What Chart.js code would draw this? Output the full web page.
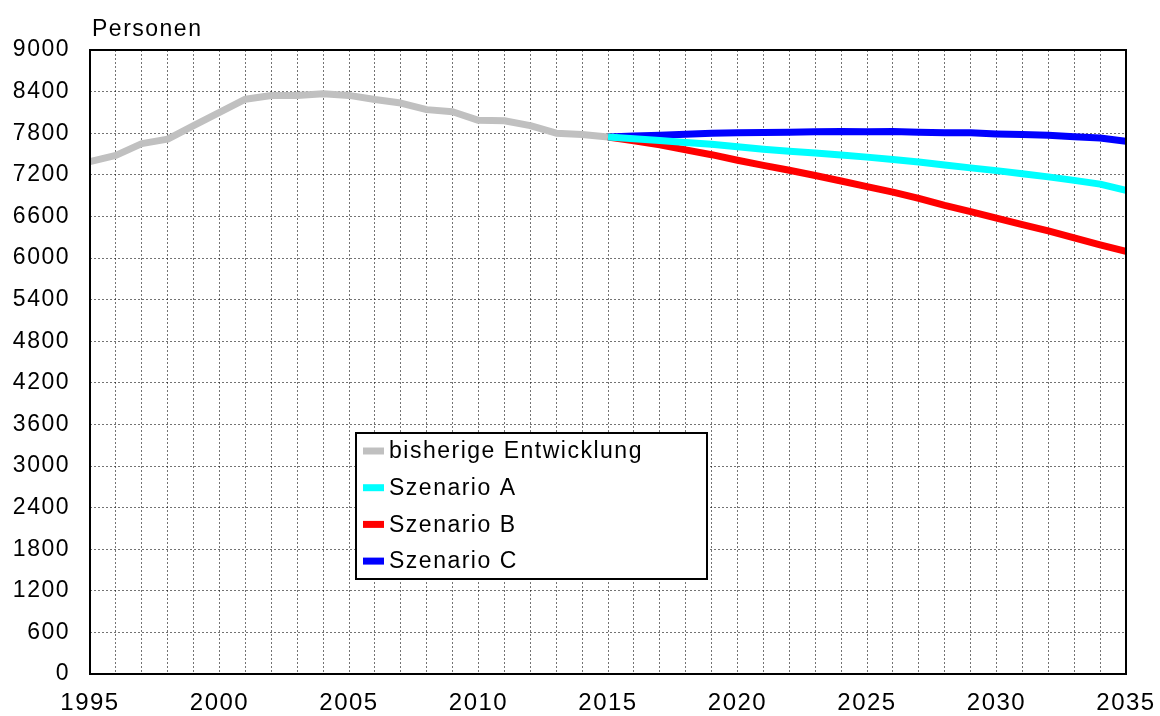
<!DOCTYPE html>
<html>
<head>
<meta charset="utf-8">
<script src="https://cdn.jsdelivr.net/npm/chart.js@4.4.1/dist/chart.umd.min.js"></script>
<style>
html,body{margin:0;padding:0;background:#fff;}
#wrap{width:1160px;height:716px;position:relative;}
</style>
</head>
<body>
<div id="wrap"><canvas id="c" width="1160" height="716"></canvas></div>
<script>
const histYears = [1995,1996,1997,1998,1999,2000,2001,2002,2003,2004,2005,2006,2007,2008,2009,2010,2011,2012,2013,2014,2015];
const histValues = [7390,7480,7650,7715,7910,8100,8290,8345,8345,8370,8345,8285,8235,8140,8110,7985,7980,7910,7800,7780,7745];
const scenYears = [2015,2016,2017,2018,2019,2020,2021,2022,2023,2024,2025,2026,2027,2028,2029,2030,2031,2032,2033,2034,2035];
const scenA = [7745,7720,7695,7665,7640,7605,7570,7540,7515,7485,7455,7420,7385,7340,7300,7260,7215,7170,7120,7065,6975];
const scenB = [7745,7690,7632,7560,7490,7410,7335,7265,7190,7110,7030,6950,6860,6760,6670,6575,6480,6390,6290,6190,6095];
const scenC = [7745,7760,7770,7785,7800,7805,7810,7815,7820,7825,7820,7825,7815,7805,7805,7790,7780,7770,7750,7730,7685];
const seriesLabels = ['bisherige Entwicklung','Szenario A','Szenario B','Szenario C'];
const seriesColors = ['#c0c0c0','#00ffff','#ff0000','#0000ff'];
const xLabelYears = [1995,2000,2005,2010,2015,2020,2025,2030,2035];
const yAxisTitle = 'Personen';

const FONT = "'Liberation Sans', Arial, sans-serif";
const pts = (xs, ys) => xs.map((x, i) => ({x: x, y: ys[i]}));

const spacingPlugin = {
  id: 'spacing',
  beforeUpdate(chart){ chart.ctx.letterSpacing = '1.5px'; },
  beforeLayout(chart){ chart.ctx.letterSpacing = '1.5px'; },
  beforeDraw(chart){ chart.ctx.letterSpacing = '1.5px'; }
};

const decoPlugin = {
  id: 'deco',
  afterDatasetsDraw(chart){
    const ctx = chart.ctx, a = chart.chartArea;
    ctx.save();
    ctx.letterSpacing = '1.5px';
    ctx.strokeStyle = '#000';
    ctx.lineWidth = 2;
    ctx.strokeRect(a.left, a.top, a.right - a.left, a.bottom - a.top);
    ctx.fillStyle = '#000';
    ctx.font = '23px ' + FONT;
    ctx.textAlign = 'left';
    ctx.textBaseline = 'alphabetic';
    ctx.fillText(yAxisTitle, 92, 36);
    const bx = 356, by = 433, bw = 351, bh = 146;
    ctx.fillStyle = '#fff';
    ctx.fillRect(bx, by, bw, bh);
    ctx.strokeStyle = '#000';
    ctx.lineWidth = 2;
    ctx.strokeRect(bx, by, bw, bh);
    chart.data.datasets.forEach((ds, i) => {
      const cy = 451 + i * 36.7;
      ctx.strokeStyle = ds.borderColor;
      ctx.lineWidth = 7;
      ctx.lineCap = 'butt';
      ctx.beginPath();
      ctx.moveTo(363, cy);
      ctx.lineTo(384, cy);
      ctx.stroke();
      ctx.fillStyle = '#000';
      ctx.font = '23px ' + FONT;
      ctx.textBaseline = 'middle';
      ctx.fillText(ds.label, 389, cy + 1);
    });
    ctx.restore();
  }
};

new Chart(document.getElementById('c'), {
  type: 'line',
  data: {
    datasets: [
      {label: seriesLabels[0], data: pts(histYears, histValues), borderColor: seriesColors[0], order: 3},
      {label: seriesLabels[1], data: pts(scenYears, scenA), borderColor: seriesColors[1], order: 0},
      {label: seriesLabels[2], data: pts(scenYears, scenB), borderColor: seriesColors[2], order: 1},
      {label: seriesLabels[3], data: pts(scenYears, scenC), borderColor: seriesColors[3], order: 2}
    ]
  },
  options: {
    responsive: false,
    animation: false,
    events: [],
    datasets: {line: {borderWidth: 7, pointRadius: 0, tension: 0, fill: false, borderCapStyle: 'butt', borderJoinStyle: 'round'}},
    layout: {padding: {top: 50, right: 34, left: 0, bottom: 0}},
    plugins: {legend: {display: false}, tooltip: {enabled: false}, title: {display: false}},
    scales: {
      x: {
        type: 'linear', min: 1995, max: 2035,
        afterFit(s){ s.height = 42; s.paddingLeft = 0; s.paddingRight = 0; },
        grid: {color: 'rgba(0,0,0,0.55)', lineWidth: 1, drawTicks: false},
        border: {display: false, dash: [2,2]},
        ticks: {
          stepSize: 1, autoSkip: false, maxRotation: 0, maxTicksLimit: 100, padding: 15,
          color: '#000', font: {family: FONT, size: 24},
          callback: v => xLabelYears.includes(v) ? String(v) : ''
        }
      },
      y: {
        min: 0, max: 9000,
        afterFit(s){ s.width = 90; s.paddingTop = 0; s.paddingBottom = 0; },
        grid: {color: 'rgba(0,0,0,0.55)', lineWidth: 1, drawTicks: false},
        border: {display: false, dash: [2,2]},
        ticks: {
          stepSize: 600, maxTicksLimit: 100, padding: 20, autoSkip: false,
          color: '#000', font: {family: FONT, size: 23},
          callback: v => String(v)
        }
      }
    }
  },
  plugins: [spacingPlugin, decoPlugin]
});
</script>
</body>
</html>
